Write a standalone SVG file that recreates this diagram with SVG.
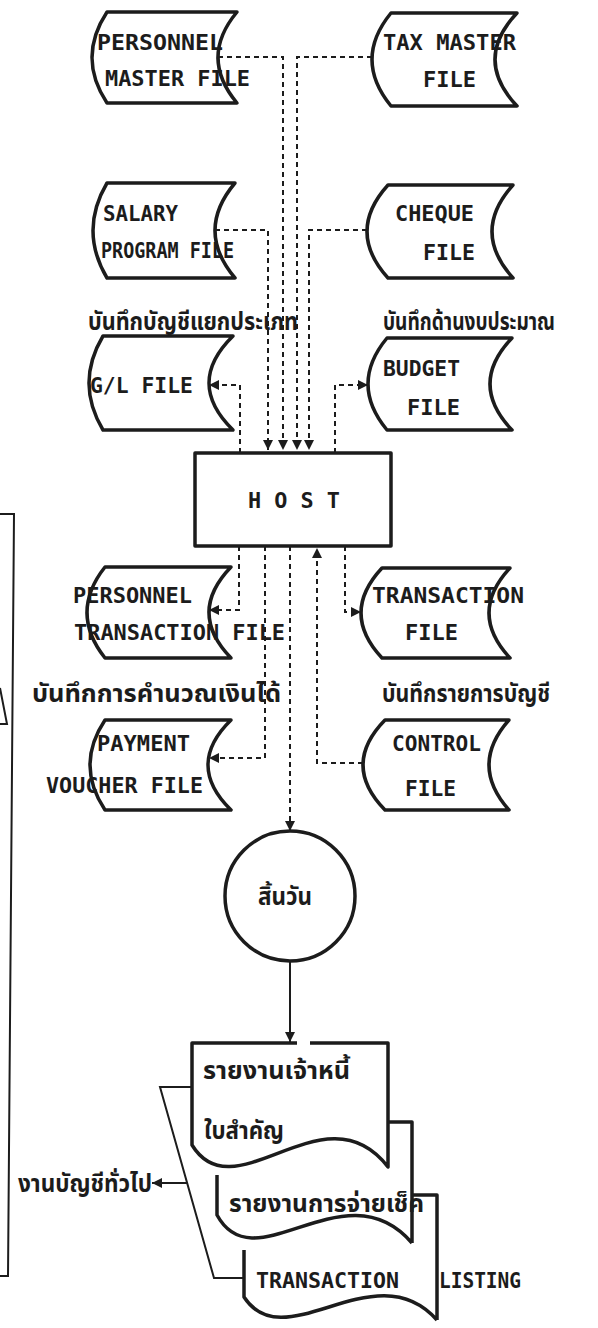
<svg xmlns="http://www.w3.org/2000/svg" width="598" height="1328" viewBox="0 0 598 1328">
<style>
.shape{fill:none;stroke:#1c1c1c;stroke-width:3.5;stroke-linejoin:round}
.dash{fill:none;stroke:#1c1c1c;stroke-width:2;stroke-dasharray:5 4}
.solid{fill:none;stroke:#1c1c1c;stroke-width:2}
.t{font-family:"DejaVu Sans Mono","Liberation Mono",monospace;font-weight:bold;font-size:22px;fill:#1c1c1c}
.th{font-family:"Noto Sans Thai","Noto Sans","DejaVu Sans",sans-serif;font-weight:bold;font-size:24px;fill:#1c1c1c}
</style>
<defs>
<marker id="ah" viewBox="0 0 10 10" refX="10" refY="5" markerWidth="10" markerHeight="10" markerUnits="userSpaceOnUse" orient="auto">
<path d="M0,0 L10,5 L0,10 Z" fill="#1c1c1c"/>
</marker>
</defs>
<rect width="598" height="1328" fill="#ffffff"/>

<g id="personnel-master-file">
<path class="shape" d="M107,12 H237 Q199,57.5 237,103 H107 Q77,57.5 107,12 Z"/>
<text class="t" x="97" y="50" textLength="126" lengthAdjust="spacingAndGlyphs">PERSONNEL</text>
<text class="t" x="105" y="86" textLength="145" lengthAdjust="spacingAndGlyphs">MASTER FILE</text>
</g>
<g id="tax-master-file">
<path class="shape" d="M391,13 H517 Q473,59.5 517,106 H391 Q353,59.5 391,13 Z"/>
<text class="t" x="383" y="50" textLength="133" lengthAdjust="spacingAndGlyphs">TAX MASTER</text>
<text class="t" x="423" y="87" textLength="53" lengthAdjust="spacingAndGlyphs">FILE</text>
</g>
<g id="salary-program-file">
<path class="shape" d="M107,183 H235 Q195,230.5 235,278 H107 Q79,230.5 107,183 Z"/>
<text class="t" x="103" y="221" textLength="75" lengthAdjust="spacingAndGlyphs">SALARY</text>
<text class="t" x="101" y="258" textLength="133" lengthAdjust="spacingAndGlyphs">PROGRAM FILE</text>
</g>
<g id="cheque-file">
<path class="shape" d="M388,185 H513 Q471,231.5 513,278 H388 Q346,231.5 388,185 Z"/>
<text class="t" x="395" y="221" textLength="79" lengthAdjust="spacingAndGlyphs">CHEQUE</text>
<text class="t" x="423" y="260" textLength="52" lengthAdjust="spacingAndGlyphs">FILE</text>
</g>
<g id="gl-file">
<text class="th" x="88" y="330" textLength="210" lengthAdjust="spacingAndGlyphs">บันทึกบัญชีแยกประเภท</text>
<path class="shape" d="M103,336 H233 Q185,383 233,430 H103 Q75,383 103,336 Z"/>
<text class="t" x="90" y="393" textLength="103" lengthAdjust="spacingAndGlyphs">G/L FILE</text>
</g>
<g id="budget-file">
<text class="th" x="383" y="330" textLength="172" lengthAdjust="spacingAndGlyphs">บันทึกด้านงบประมาณ</text>
<path class="shape" d="M387,338 H512 Q468,384 512,430 H387 Q349,384 387,338 Z"/>
<text class="t" x="383" y="376" textLength="77" lengthAdjust="spacingAndGlyphs">BUDGET</text>
<text class="t" x="407" y="415" textLength="53" lengthAdjust="spacingAndGlyphs">FILE</text>
</g>
<g id="host">
<rect class="shape" x="195" y="453" width="196" height="93"/>
<text class="t" x="248" y="508" textLength="92" lengthAdjust="spacingAndGlyphs">H O S T</text>
</g>
<g id="personnel-transaction-file">
<path class="shape" d="M105,567 H231 Q187,612.5 231,658 H105 Q69,612.5 105,567 Z"/>
<text class="t" x="73" y="603" textLength="119" lengthAdjust="spacingAndGlyphs">PERSONNEL</text>
<text class="t" x="74" y="640" textLength="211" lengthAdjust="spacingAndGlyphs">TRANSACTION FILE</text>
<text class="th" x="32" y="702" textLength="249" lengthAdjust="spacingAndGlyphs">บันทึกการคำนวณเงินได้</text>
</g>
<g id="transaction-file">
<path class="shape" d="M382,568 H510 Q468,613 510,658 H382 Q340,613 382,568 Z"/>
<text class="t" x="372" y="603" textLength="152" lengthAdjust="spacingAndGlyphs">TRANSACTION</text>
<text class="t" x="405" y="640" textLength="53" lengthAdjust="spacingAndGlyphs">FILE</text>
<text class="th" x="382" y="702" textLength="168" lengthAdjust="spacingAndGlyphs">บันทึกรายการบัญชี</text>
</g>
<g id="payment-voucher-file">
<path class="shape" d="M105,720 H231 Q185,765 231,810 H105 Q75,765 105,720 Z"/>
<text class="t" x="97" y="751" textLength="93" lengthAdjust="spacingAndGlyphs">PAYMENT</text>
<text class="t" x="46" y="793" textLength="157" lengthAdjust="spacingAndGlyphs">VOUCHER FILE</text>
</g>
<g id="control-file">
<path class="shape" d="M385,720 H509 Q469,765 509,810 H385 Q341,765 385,720 Z"/>
<text class="t" x="392" y="751" textLength="89" lengthAdjust="spacingAndGlyphs">CONTROL</text>
<text class="t" x="405" y="796" textLength="51" lengthAdjust="spacingAndGlyphs">FILE</text>
</g>
<g id="end-of-day">
<circle class="shape" cx="290" cy="896" r="65"/>
<text class="th" x="258" y="905" textLength="54" lengthAdjust="spacingAndGlyphs" font-size="26">สิ้นวัน</text>
</g>
<g id="reports">
<path class="shape" d="M412,1195 H437 V1320 M244,1250 V1297 C285,1360 375,1250 437,1320"/>
<path class="shape" d="M388,1122 H412 V1243 M217,1175 V1215 C255,1285 345,1165 412,1243"/>
<path class="shape" d="M297,1043 H192 V1145 C235,1215 325,1085 388,1167 V1043 H310"/>
<text class="th" x="203" y="1079" textLength="147" lengthAdjust="spacingAndGlyphs">รายงานเจ้าหนี้</text>
<text class="th" x="204" y="1139" textLength="80" lengthAdjust="spacingAndGlyphs">ใบสำคัญ</text>
<text class="th" x="229" y="1212" textLength="195" lengthAdjust="spacingAndGlyphs">รายงานการจ่ายเช็ค</text>
<text class="t" x="256" y="1288"><tspan textLength="143" lengthAdjust="spacingAndGlyphs">TRANSACTION</tspan> <tspan x="439" textLength="82" lengthAdjust="spacingAndGlyphs">LISTING</tspan></text>
</g>
<g id="general-accounting">
<polyline class="solid" points="0,514 14,514 8,1276 0,1276"/>
<polyline class="solid" points="0,688 7,724 0,724"/>
<text class="th" x="18" y="1192" textLength="134" lengthAdjust="spacingAndGlyphs">งานบัญชีทั่วไป</text>
</g>

<g id="connectors">
<polyline class="dash" points="218,57 283,57 283,450" marker-end="url(#ah)"/>
<polyline class="dash" points="372,57 297,57 297,450" marker-end="url(#ah)"/>
<polyline class="dash" points="215,230 268,230 268,450" marker-end="url(#ah)"/>
<polyline class="dash" points="367,230 309,230 309,450" marker-end="url(#ah)"/>
<polyline class="dash" points="240,453 240,385 209,385" marker-end="url(#ah)"/>
<polyline class="dash" points="335,453 335,385 368,385" marker-end="url(#ah)"/>
<polyline class="dash" points="239,546 239,610 209,610" marker-end="url(#ah)"/>
<polyline class="dash" points="345,546 345,612 361,612" marker-end="url(#ah)"/>
<polyline class="dash" points="265,546 265,758 209,758" marker-end="url(#ah)"/>
<polyline class="dash" points="290,546 290,831" marker-end="url(#ah)"/>
<polyline class="dash" points="363,763 317,763 317,548" marker-end="url(#ah)"/>
<line class="solid" x1="290" y1="961" x2="290" y2="1042" marker-end="url(#ah)"/>
<polyline class="solid" points="192,1087 160,1087 214,1278 244,1278"/>
<line class="solid" x1="187" y1="1183" x2="152" y2="1183" marker-end="url(#ah)"/>
</g>
</svg>
